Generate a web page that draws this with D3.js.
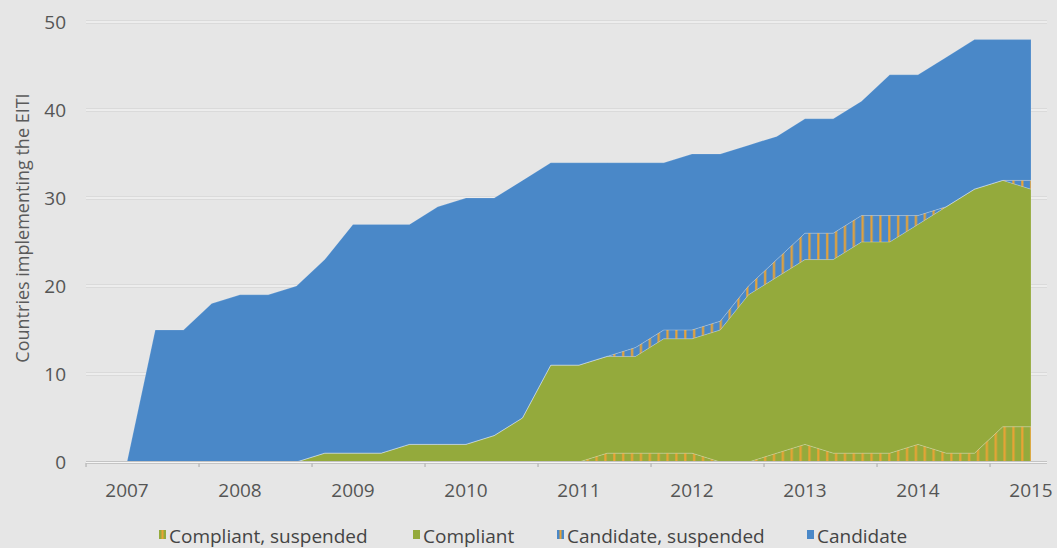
<!DOCTYPE html>
<html>
<head>
<meta charset="utf-8">
<script src="https://cdn.jsdelivr.net/npm/d3@7"></script>
<style>
    body { margin: 0; background: #e6e6e6; }
    svg { display: block; font-family: "Open Sans", sans-serif; }
    .tick-label { fill: #555; font-size: 19px; }
    .legend-label { fill: #444; font-size: 19px; }
</style>
</head>
<body>
<svg id="chart" width="1057" height="548"></svg>
<script>
// quarterly snapshots, 2007 Q1 .. 2015 Q1
const quarters = [
    "2007 Q1", "2007 Q2", "2007 Q3", "2007 Q4",
    "2008 Q1", "2008 Q2", "2008 Q3", "2008 Q4",
    "2009 Q1", "2009 Q2", "2009 Q3", "2009 Q4",
    "2010 Q1", "2010 Q2", "2010 Q3", "2010 Q4",
    "2011 Q1", "2011 Q2", "2011 Q3", "2011 Q4",
    "2012 Q1", "2012 Q2", "2012 Q3", "2012 Q4",
    "2013 Q1", "2013 Q2", "2013 Q3", "2013 Q4",
    "2014 Q1", "2014 Q2", "2014 Q3", "2014 Q4",
    "2015 Q1"
];
const yearLabels = ["2007", "2008", "2009", "2010", "2011", "2012", "2013", "2014", "2015"];

const compliantSuspended = [0, 0, 0, 0, 0, 0, 0, 0, 0, 0, 0, 0, 0, 0, 0, 0, 0, 1, 1, 1, 1, 0, 0, 1, 2, 1, 1, 1, 2, 1, 1, 4, 4];
const compliant          = [0, 0, 0, 0, 0, 0, 0, 1, 1, 1, 2, 2, 2, 3, 5, 11, 11, 11, 11, 13, 13, 15, 19, 20, 21, 22, 24, 24, 25, 28, 30, 28, 27];
const candidateSuspended = [0, 0, 0, 0, 0, 0, 0, 0, 0, 0, 0, 0, 0, 0, 0, 0, 0, 0, 1, 1, 1, 1, 1, 2, 3, 3, 3, 3, 1, 0, 0, 0, 1];
const candidate          = [0, 15, 15, 18, 19, 19, 20, 22, 26, 26, 25, 27, 28, 27, 27, 23, 23, 22, 21, 19, 20, 19, 16, 14, 13, 13, 13, 16, 16, 17, 17, 16, 16];

const yTicks = [0, 10, 20, 30, 40, 50];
const seriesKeys = ["cs", "c", "ds", "d"];
const seriesNames = ["Compliant, suspended", "Compliant", "Candidate, suspended", "Candidate"];

const blue = "#4a88c8";
const green = "#94aa3c";
const orange = "#e9a335";

let rows = quarters.map(function(q, i) {
    return { q: q, cs: compliantSuspended[i], c: compliant[i], ds: candidateSuspended[i], d: candidate[i] };
});

let svg = d3.select("#chart");
let defs = svg.append("defs");

// orange stripes only; the base colour is painted underneath
let pat = defs.append("pattern")
    .attr("id", "stripes")
    .attr("patternUnits", "userSpaceOnUse")
    .attr("width", 8.87)
    .attr("height", 20);
pat.append("rect").attr("x", 1.2).attr("width", 2.2).attr("height", 20).attr("fill", orange);

let base = { cs: green, c: green, ds: blue, d: blue };

let x = d3.scalePoint().domain(quarters).range([127, 1031]);
let y = d3.scaleLinear().domain([0, 50]).range([462, 22]);

let left = 86, right = 1047;

// gridlines
let grid = svg.append("g");
grid.selectAll("line.shade")
    .data(yTicks.slice(1))
    .enter().append("line")
    .attr("x1", left).attr("x2", right)
    .attr("y1", d => y(d)).attr("y2", d => y(d))
    .attr("stroke", "#cdcdcd").attr("stroke-width", 3);
grid.selectAll("line.hi")
    .data(yTicks.slice(1))
    .enter().append("line")
    .attr("x1", left).attr("x2", right)
    .attr("y1", d => y(d)).attr("y2", d => y(d))
    .attr("stroke", "#f7f7f7").attr("stroke-width", 1.5);

// stacked areas
let stack = d3.stack().keys(seriesKeys);
let layers = stack(rows);

let area = d3.area()
    .x(d => x(d.data.q))
    .y0(d => y(d[0]))
    .y1(d => y(d[1]));

let areas = svg.append("g");
areas.selectAll("path.base")
    .data(layers)
    .enter().append("path")
    .attr("class", "base")
    .attr("d", area)
    .attr("fill", d => base[d.key]);

areas.selectAll("path.hatch")
    .data(layers.filter(l => l.key === "cs" || l.key === "ds"))
    .enter().append("path")
    .attr("class", "hatch")
    .attr("d", area)
    .attr("fill", "url(#stripes)");

areas.selectAll("path.edge")
    .data(layers)
    .enter().append("path")
    .attr("class", "edge")
    .attr("d", area)
    .attr("fill", "none")
    .attr("stroke", "rgba(255,255,255,0.15)")
    .attr("stroke-width", 1);

// x axis line and ticks
let step = x.step();
let tickXs = yearLabels.map(yr => x(yr + " Q1") - 1.45 * step);

svg.append("line")
    .attr("x1", left).attr("x2", right)
    .attr("y1", y(0) + 0.5).attr("y2", y(0) + 0.5)
    .attr("stroke", "#c4c4c4").attr("stroke-width", 3);
svg.append("line")
    .attr("x1", left).attr("x2", right)
    .attr("y1", y(0) + 0.5).attr("y2", y(0) + 0.5)
    .attr("stroke", "#f5f5f5").attr("stroke-width", 1.2);
svg.append("g").selectAll("line")
    .data(tickXs)
    .enter().append("line")
    .attr("x1", d => d).attr("x2", d => d)
    .attr("y1", y(0) + 1).attr("y2", y(0) + 5)
    .attr("stroke", "#bdbdbd").attr("stroke-width", 1.5);

svg.append("g").selectAll("text")
    .data(yearLabels)
    .enter().append("text")
    .attr("class", "tick-label")
    .attr("x", d => x(d + " Q1"))
    .attr("y", 497)
    .attr("text-anchor", "middle")
    .text(d => d);

// y tick labels
svg.append("g").selectAll("text")
    .data(yTicks)
    .enter().append("text")
    .attr("class", "tick-label")
    .attr("x", 66)
    .attr("y", d => y(d) + 7)
    .attr("text-anchor", "end")
    .text(d => d);

svg.append("text")
    .attr("transform", "translate(29,228) rotate(-90)")
    .attr("text-anchor", "middle")
    .attr("fill", "#5a5a5a")
    .style("font-size", "18px")
    .text("Countries implementing the EITI");

// legend
let legendX = [169, 423, 567, 817];
let legend = svg.append("g").selectAll("g")
    .data(seriesKeys)
    .enter().append("g")
    .attr("transform", (d, i) => "translate(" + legendX[i] + ",0)");

legend.append("rect")
    .attr("x", -10).attr("y", 530)
    .attr("width", 7).attr("height", 9)
    .attr("fill", d => base[d]);
legend.filter(d => d === "cs" || d === "ds")
    .append("rect")
    .attr("x", -7.5).attr("y", 530)
    .attr("width", 2).attr("height", 9)
    .attr("fill", orange);
legend.append("text")
    .attr("class", "legend-label")
    .attr("x", 0).attr("y", 543)
    .text((d, i) => seriesNames[i]);
</script>
</body>
</html>
